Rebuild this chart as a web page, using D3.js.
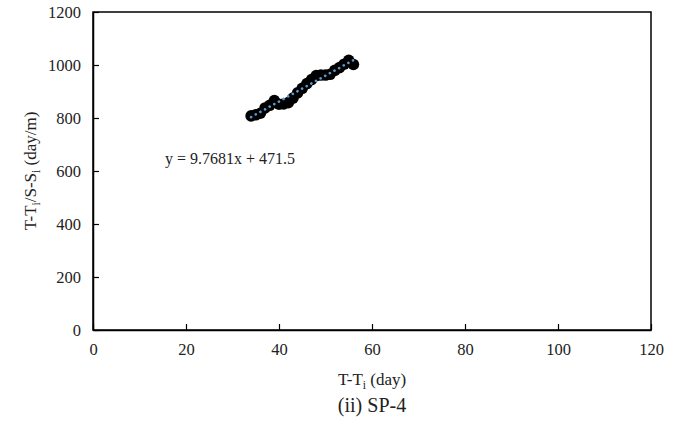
<!DOCTYPE html>
<html><head><meta charset="utf-8">
<script src="https://cdn.jsdelivr.net/npm/d3@7"></script>
<style>body{margin:0;background:#fff}svg{display:block}text{font-family:"Liberation Serif","Times New Roman",serif;fill:#222}</style>
</head><body>
<svg id="c" width="683" height="428"></svg>
<script>
const days = [34,35,36,37,38,39,40,41,42,43,44,45,46,47,48,49,50,51,52,53,54,55,56];
const ratios = [808,812,818,838,848,866,852,853,858,875,895,912,930,945,960,962,962,965,980,990,1003,1018,1002];
const xTicks = [0,20,40,60,80,100,120];
const yTicks = [0,200,400,600,800,1000,1200];
const slope = 9.7681, intercept = 471.5;

const svg = d3.select("#c");
const L = 93, R = 651, T = 12, B = 330;
const x = d3.scaleLinear().domain([0,120]).range([L,R]);
const y = d3.scaleLinear().domain([0,1200]).range([B,T]);

svg.append("rect").attr("x",L).attr("y",T).attr("width",R-L).attr("height",B-T)
  .attr("fill","none").attr("stroke","#000").attr("stroke-width",1.5);

const xa = svg.append("g").attr("transform",`translate(0,${B})`)
  .call(d3.axisBottom(x).tickValues(xTicks).tickFormat(d3.format("d")).tickSizeInner(-6).tickSizeOuter(0).tickPadding(13));
const ya = svg.append("g").attr("transform",`translate(${L},0)`)
  .call(d3.axisLeft(y).tickValues(yTicks).tickFormat(d3.format("d")).tickSizeInner(-6).tickSizeOuter(0).tickPadding(12));
[xa,ya].forEach(a=>{
  a.attr("font-size",null).attr("font-family",null);
  a.select(".domain").attr("stroke","#000").attr("stroke-width",1.5);
  a.selectAll(".tick line").attr("stroke","#000").attr("stroke-width",1.2);
  a.selectAll(".tick text").style("font-family","'Liberation Serif',serif").style("font-size","16.5px").attr("fill","#222");
});

svg.append("g").selectAll("circle").data(days).join("circle")
  .attr("cx",d=>x(d)).attr("cy",(d,i)=>y(ratios[i])).attr("r",5.8).attr("fill","#000");

const x0 = d3.min(days), x1 = d3.max(days);
svg.append("line").attr("x1",x(x0)).attr("y1",y(slope*x0+intercept))
  .attr("x2",x(x1)).attr("y2",y(slope*x1+intercept))
  .attr("stroke","#5b9bd5").attr("stroke-width",2.6).attr("stroke-linecap","round")
  .attr("stroke-dasharray","0.1,5.2");

svg.append("text").attr("x",165).attr("y",164).style("font-size","16px")
  .text(`y = ${slope}x + ${intercept}`);

const xt = svg.append("text").attr("x",372).attr("y",385).attr("text-anchor","middle").style("font-size","17px");
xt.append("tspan").text("T-T");
xt.append("tspan").attr("dy",4).style("font-size","11.5px").text("i");
xt.append("tspan").attr("dy",-4).text(" (day)");

const yt = svg.append("text").attr("transform",`translate(36,${(T+B)/2}) rotate(-90)`).attr("text-anchor","middle").style("font-size","17px");
yt.append("tspan").text("T-T");
yt.append("tspan").attr("dy",4).style("font-size","11.5px").text("i");
yt.append("tspan").attr("dy",-4).text("/S-S");
yt.append("tspan").attr("dy",4).style("font-size","11.5px").text("i");
yt.append("tspan").attr("dy",-4).text(" (day/m)");

svg.append("text").attr("x",372).attr("y",412).attr("text-anchor","middle").style("font-size","20px").text("(ii) SP-4");
</script>
</body></html>
